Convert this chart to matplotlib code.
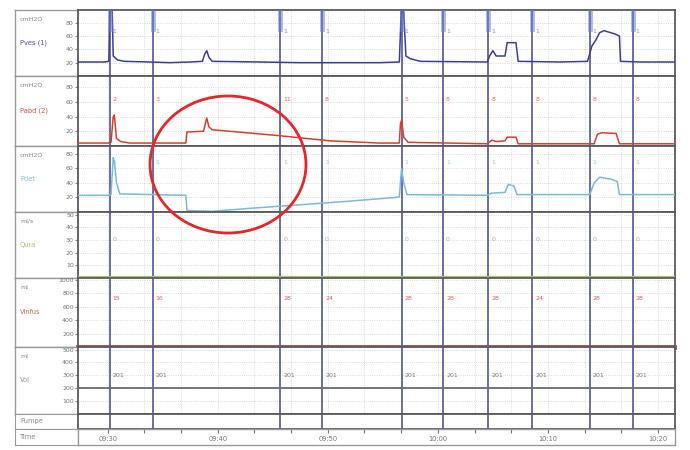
import numpy as np
import matplotlib.pyplot as plt
from matplotlib.patches import Ellipse
from matplotlib.transforms import blended_transform_factory

#-------------------------------------------------------------------------------
# DATA  (time in minutes after 09:00)
pves_t = [27.3, 29.7, 30.1, 30.2, 30.4, 30.5, 30.9, 31.5, 33.8, 35.6,
          37.5, 38.6, 38.8, 39.0, 39.2, 39.5, 43.8, 47.5, 54.7, 56.5,
          56.7, 56.9, 57.1, 57.5, 58.4, 64.5, 64.7, 65.0, 65.3, 66.1,
          66.3, 67.1, 67.3, 71.1, 73.6, 74.0, 74.4, 74.7, 75.1, 76.1,
          76.5, 76.6, 78.4, 81.5]
pves_v = [21, 21, 22, 110, 105, 30, 24, 22, 21, 20,
          21, 22, 32, 38, 28, 22, 21, 20, 20, 21,
          110, 95, 30, 26, 22, 21, 30, 38, 30, 30,
          50, 50, 22, 21, 22, 45, 55, 65, 68, 63,
          60, 22, 21, 21]

pabd_t = [27.3, 30.0, 30.3, 30.5, 30.6, 30.8, 31.2, 32.0, 37.1, 37.2,
          38.7, 38.9, 39.0, 39.2, 39.5, 41.1, 45.6, 50.2, 54.7, 56.5,
          56.6, 56.7, 56.9, 57.3, 64.5, 64.9, 65.3, 66.1, 66.3, 67.1,
          67.3, 74.2, 74.5, 74.9, 76.2, 76.5, 81.5]
pabd_v = [4, 4, 5, 40, 42, 10, 6, 4, 4, 19,
          20, 32, 38, 26, 22, 20, 14, 7, 4, 4,
          30, 35, 12, 5, 3, 8, 6, 7, 12, 12,
          3, 3, 16, 18, 17, 3, 3]

pdet_t = [27.3, 30.0, 30.3, 30.5, 30.6, 30.8, 31.1, 37.1, 37.2, 39.5,
          42.9, 47.5, 52.0, 56.1, 56.5, 56.7, 56.9, 57.2, 64.5, 64.9,
          66.1, 66.4, 66.9, 67.2, 73.8, 74.2, 74.7, 75.8, 76.3, 76.5,
          81.5]
pdet_v = [23, 23, 24, 75, 70, 40, 25, 23, 2, 1,
          5, 10, 15, 20, 21, 60, 40, 24, 23, 26,
          27, 38, 36, 24, 24, 40, 48, 45, 42, 24,
          24]

flow_t = [27.3, 81.5]
flow_v = [0.6, 0.6]
vinf_t = [27.3, 81.5]
vinf_v = [0, 0]
vol_t = [27.3, 81.5]
vol_v = [200, 200]

events = [30.2, 34.1, 45.7, 49.5, 56.7, 60.5, 64.6, 68.6, 73.8, 77.7]
pves_marks = ["1", "1", "1", "1", "1", "1", "1", "1", "1", "1"]
pabd_marks = ["2", "3", "11", "8", "5", "8", "8", "8", "8", "8"]
pdet_marks = ["1", "1", "1", "1", "1", "1", "1", "1", "1", "1"]
flow_marks = ["0", "0", "0", "0", "0", "0", "0", "0", "0", "0"]
vinf_marks = ["15", "16", "28", "24", "28", "28", "28", "24", "28", "28"]
vol_marks = ["201", "201", "201", "201", "201", "201", "201", "201", "201", "201"]

time_ticks = [30, 40, 50, 60, 70, 80]
time_labels = ["09:30", "09:40", "09:50", "10:00", "10:10", "10:20"]
#-------------------------------------------------------------------------------

W, H = 690, 450
X0, X1 = 78, 675
LX = 15
TMIN, TMAX = 27.3, 81.55


def box(x0, y0, x1, y1):
    return [x0 / W, 1 - y1 / H, (x1 - x0) / W, (y1 - y0) / H]


fig = plt.figure(figsize=(6.9, 4.5), dpi=100)
fig.patch.set_facecolor("white")

edge = "#5a5a5a"
ev_col = "#55559a"

# rows: (top, bottom, units, name, name colour, ylim, yticks)
rows = [
    (10, 76, "cmH2O", "Pves (1)", "#4a55a8", (0, 99), [20, 40, 60, 80]),
    (76, 146, "cmH2O", "Pabd (2)", "#d0503e", (0, 95), [20, 40, 60, 80]),
    (146, 212, "cmH2O", "Pdet", "#86c2da", (0, 91), [20, 40, 60, 80]),
    (212, 278, "ml/s", "Qura", "#a8c46e", (0, 52), [10, 20, 30, 40, 50]),
    (278, 347, "ml", "Vinfus", "#d2665a", (0, 1030), [200, 400, 600, 800, 1000]),
    (347, 414, "ml", "Vol", "#9a9a9a", (0, 520), [100, 200, 300, 400, 500]),
]

axes = []
for (y0, y1, unit, name, ncol, ylim, yt) in rows:
    lab = fig.add_axes(box(LX, y0, X0, y1))
    lab.set_xticks([]); lab.set_yticks([])
    for s in lab.spines.values():
        s.set_color("#9a9a9a"); s.set_linewidth(1.0)
    lab.text(0.08, 0.86, unit, fontsize=4.5, color="#8a8a8a", transform=lab.transAxes, va="center")
    lab.text(0.08, 0.5, name, fontsize=4.8, color=ncol, transform=lab.transAxes, va="center")

    ax = fig.add_axes(box(X0, y0, X1, y1))
    ax.set_xlim(TMIN, TMAX)
    ax.set_ylim(*ylim)
    ax.set_yticks(yt)
    ax.set_yticklabels([str(v) for v in yt], fontsize=4.5, color="#777777")
    ax.tick_params(axis="y", length=2, pad=1, color="#888888")
    ax.set_xticks(np.arange(30, 81, 10 / 3.0))
    ax.tick_params(axis="x", length=0, labelbottom=False)
    ax.grid(True, color="#cfcfcf", linestyle=":", linewidth=0.6)
    for s in ax.spines.values():
        s.set_color(edge); s.set_linewidth(1.3)
    for t in events:
        ax.axvline(t, color=ev_col, lw=1.2, zorder=4)
    axes.append(ax)

ax_pves, ax_pabd, ax_pdet, ax_flow, ax_vinf, ax_vol = axes

# traces
ax_pves.plot(pves_t, pves_v, color="#3b3f99", lw=1.1, zorder=5)
for t in events:
    ax_pves.plot([t, t], [70, 99], color="#6c7fcf", lw=3.5, alpha=0.55, zorder=5)
ax_pabd.plot(pabd_t, pabd_v, color="#d9402a", lw=1.1, zorder=5)
ax_pdet.plot(pdet_t, pdet_v, color="#79bcd9", lw=1.1, zorder=5)
ax_flow.plot(flow_t, flow_v, color="#a4c46a", lw=1.6, zorder=5)
ax_vinf.plot(vinf_t, vinf_v, color="#a0524f", lw=3.5, zorder=5, clip_on=False)
ax_vol.plot(vol_t, vol_v, color="#6b6b80", lw=1.3, zorder=5)

# event annotations
def marks(ax, labels, yval, col):
    for t, s in zip(events, labels):
        ax.text(t + 0.25, yval, s, fontsize=4.5, color=col, va="center", zorder=6)

marks(ax_pves, pves_marks, 66, "#8090c8")
marks(ax_pabd, pabd_marks, 63, "#e06a55")
marks(ax_pdet, pdet_marks, 68, "#90c8e0")
marks(ax_flow, flow_marks, 30, "#b0b0b0")
marks(ax_vinf, vinf_marks, 720, "#d86a5a")
marks(ax_vol, vol_marks, 300, "#7a7a8a")

# Pumpe row
lab = fig.add_axes(box(LX, 414, X0, 429))
lab.set_xticks([]); lab.set_yticks([])
for s in lab.spines.values():
    s.set_color("#9a9a9a")
lab.text(0.08, 0.5, "Pumpe", fontsize=4.8, color="#8a8a8a", transform=lab.transAxes, va="center")
ax_p = fig.add_axes(box(X0, 414, X1, 429))
ax_p.set_xlim(TMIN, TMAX)
ax_p.set_xticks([]); ax_p.set_yticks([])
for s in ax_p.spines.values():
    s.set_color(edge); s.set_linewidth(1.3)
for t in events:
    ax_p.axvline(t, color=ev_col, lw=1.2)

# Time row
lab = fig.add_axes(box(LX, 429, X0, 445))
lab.set_xticks([]); lab.set_yticks([])
for s in lab.spines.values():
    s.set_color("#9a9a9a")
lab.text(0.08, 0.5, "Time", fontsize=4.8, color="#8a8a8a", transform=lab.transAxes, va="center")
ax_t = fig.add_axes(box(X0, 429, X1, 445))
ax_t.set_xlim(TMIN, TMAX)
ax_t.set_yticks([])
ax_t.xaxis.tick_top()
ax_t.set_xticks(np.arange(30, 81, 10 / 3.0))
ax_t.tick_params(axis="x", direction="in", length=3, color="#777777", labeltop=False)
for s in ax_t.spines.values():
    s.set_color("#9a9a9a"); s.set_linewidth(1.0)
tr = blended_transform_factory(ax_t.transData, ax_t.transAxes)
for t, s in zip(time_ticks, time_labels):
    ax_t.text(t, 0.35, s, fontsize=4.8, color="#777777", ha="center", va="center", transform=tr)

# highlight circle
fig.add_artist(Ellipse((228 / W, 1 - 164.5 / H), 156 / W, 137 / H,
                       transform=fig.transFigure, fill=False, ec="#e8262a", lw=2.0, zorder=10))

plt.savefig("out.png", dpi=100)
